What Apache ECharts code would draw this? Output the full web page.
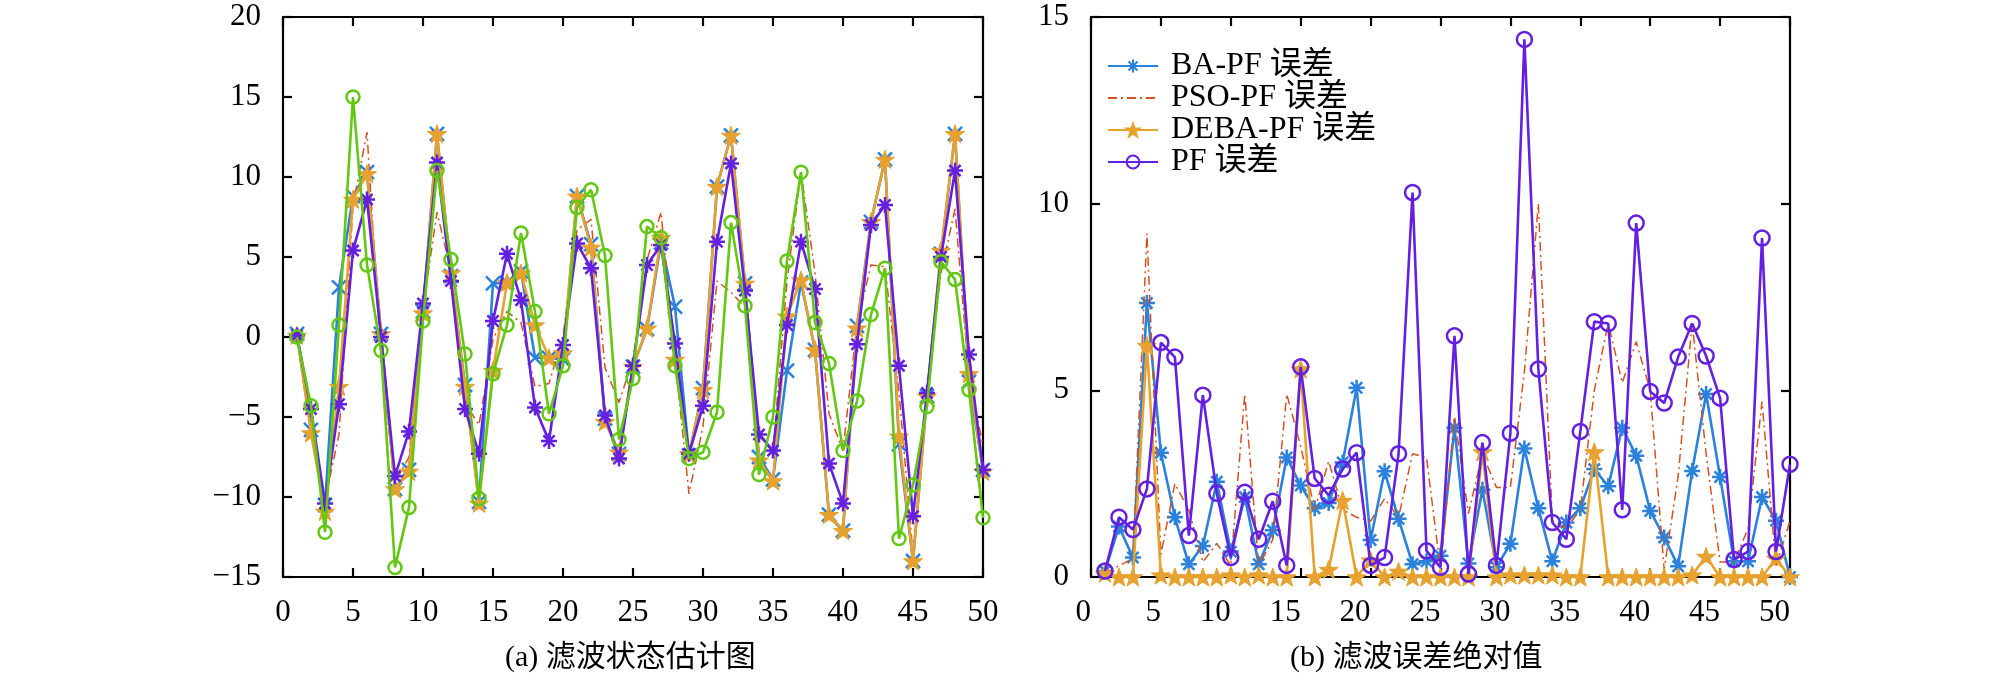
<!DOCTYPE html>
<html>
<head>
<meta charset="utf-8">
<script src="https://cdn.jsdelivr.net/npm/echarts@6/dist/echarts.min.js"></script>
<style>
  html, body { margin: 0; padding: 0; background: #fff; }
  #main { width: 2008px; height: 683px; }
</style>
</head>
<body>
<div id="main"></div>
<script>
// 横坐标 1..50
var steps = [1,2,3,4,5,6,7,8,9,10,11,12,13,14,15,16,17,18,19,20,21,22,23,24,25,
             26,27,28,29,30,31,32,33,34,35,36,37,38,39,40,41,42,43,44,45,46,47,48,49,50];

// (a) 滤波状态估计
var trueState = [0.2,-5.8,-10.5,3.1,8.8,10.3,0.2,-9.5,-8.3,1.6,12.7,3.8,-3.0,-10.3,3.35,3.4,4.1,-1.3,-1.3,-1.4,
                 8.8,5.8,-5.1,-7.3,-1.85,0.5,5.9,1.9,-7.4,-3.2,9.4,12.6,3.35,-7.5,-8.9,-2.1,3.4,-0.8,-11.1,-12.1,
                 0.7,7.2,11.1,-6.7,-14.0,-3.7,5.2,12.7,-2.8,-8.3];
var psoEst    = [0.1,-5.5,-10.2,-6.1,8.2,12.8,-1.6,-9.1,-7.5,1.8,7.8,4.1,-4.1,-5.5,-0.15,1.6,0.9,-3.1,-2.9,0.05,
                 6.7,7.35,-1.9,-4.1,-1.4,4.8,7.8,-1.35,-9.8,-5.6,3.5,2.8,1.85,-6.2,-7.1,3.5,10.3,4.0,-4.8,-7.1,
                 0.8,4.5,4.4,-3.45,-13.6,-3.3,4.0,8.0,-2.5,-6.8];
var debaEst   = [0.1,-6.0,-10.9,-3.1,8.6,10.2,0.2,-9.5,-8.4,1.5,12.7,4.0,-3.1,-10.4,-2.1,3.4,4.0,0.75,-1.3,-1.0,
                 8.8,5.6,-5.3,-7.2,-1.85,0.55,6.2,-1.4,-7.3,-3.3,9.4,12.6,3.35,-7.7,-9.0,1.3,3.56,-0.8,-11.1,-12.1,
                 0.55,7.2,11.1,-6.2,-14.0,-3.7,5.4,12.7,-2.3,-8.4];
var baEst     = [0.1,-4.5,-10.4,-4.2,5.4,8.6,0.0,-8.7,-5.9,2.1,10.9,3.5,-4.5,-7.3,1.0,5.2,2.3,-4.4,-6.5,-0.5,
                 5.85,4.3,-4.9,-7.6,-1.8,4.5,5.75,-0.4,-7.3,-4.3,5.95,10.85,2.9,-6.1,-7.1,0.75,5.96,3.0,-7.9,-10.4,
                 -0.45,7.0,8.25,-1.8,-11.2,-3.5,5.0,10.4,-1.1,-8.3];
var pfEst     = [0.0,-4.3,-12.2,0.75,15.0,4.5,-0.85,-14.4,-10.65,1.0,10.4,4.85,-1.06,-10.1,-2.3,0.75,6.5,1.6,-4.8,-1.8,
                 8.1,9.2,5.1,-6.4,-2.6,6.9,6.2,-1.8,-7.6,-7.2,-4.7,7.15,1.95,-8.6,-5.0,4.75,10.3,0.9,-1.65,-7.1,
                 -4.0,1.4,4.3,-12.6,-9.25,-4.35,4.7,3.6,-3.3,-11.3];

// (b) 滤波误差绝对值
var baErr   = [0.16,1.35,0.52,7.34,3.33,1.6,0.34,0.83,2.55,0.68,2.14,0.34,1.25,3.2,2.45,1.84,1.98,3.07,5.07,0.99,
               2.83,1.56,0.34,0.42,0.57,4.0,0.36,2.34,0.26,0.89,3.44,1.84,0.42,1.46,1.84,2.89,2.43,4.0,3.25,1.77,
               1.06,0.29,2.84,4.9,2.68,0.42,0.42,2.14,1.51,0.0];
var psoErr  = [0.1,0.3,0.5,9.2,0.6,2.5,1.8,0.4,0.9,0.3,4.9,0.3,1.0,4.9,3.5,1.8,3.1,1.8,1.6,1.5,
               2.1,1.6,3.3,3.2,0.2,4.3,1.7,3.3,2.4,2.4,5.5,10.0,1.5,1.3,1.8,5.0,6.8,5.2,6.3,5.0,
               0.2,2.7,6.8,3.3,0.4,0.4,1.3,4.7,0.3,1.5];
var debaErr = [0.1,0.0,0.0,6.2,0.05,0.0,0.0,0.0,0.0,0.05,0.0,0.05,0.0,0.0,5.57,0.0,0.2,2.05,0.0,0.45,
               0.0,0.15,0.0,0.0,0.0,0.0,0.0,3.35,0.0,0.05,0.05,0.05,0.05,0.0,0.0,3.35,0.0,0.0,0.0,0.0,
               0.0,0.0,0.05,0.55,0.0,0.0,0.0,0.0,0.5,0.0];
var pfErr   = [0.16,1.6,1.27,2.36,6.28,5.89,1.11,4.87,2.24,0.52,2.27,1.01,2.03,0.31,5.63,2.64,2.19,2.89,3.33,0.31,
               0.52,3.3,10.3,0.7,0.26,6.46,0.08,3.6,0.31,3.85,14.4,5.57,1.46,1.01,3.9,6.84,6.79,1.8,9.48,4.97,
               4.66,5.89,6.79,5.92,4.79,0.47,0.68,9.08,0.68,3.02];

var leftTicks  = { min: -15, max: 20, interval: 5 };
var rightTicks = { min: 0, max: 15, interval: 5 };
var xTicks     = { min: 0, max: 50, interval: 5 };

var serif = '"Liberation Serif", "Noto Sans CJK SC", serif';

// 标记形状
var asterisk = 'path://M0,-10L0,10M-10,0L10,0M-7,-7L7,7M-7,7L7,-7';
var cross    = 'path://M-7,-7L7,7M-7,7L7,-7';
var star     = 'path://M0,-10L2.35,-3.24L9.51,-3.09L3.8,1.24L5.88,8.09L0,4L-5.88,8.09L-3.8,1.24L-9.51,-3.09L-2.35,-3.24Z';

var cBlue = '#2a82dc', cRed = '#d8501e', cOrange = '#e7a12e', cPurple = '#6420e0', cGreen = '#62c814';

function pairs(arr) {
    return steps.map(function (x, i) { return [x, arr[i]]; });
}

function minusFmt(v) {
    return v < 0 ? '\u2212' + Math.abs(v) : String(v);
}

var axisLine = { show: true, onZero: false, lineStyle: { color: '#000', width: 2.2 } };
var tickIn   = { show: true, inside: true, length: 9, lineStyle: { color: '#000', width: 2.2 } };

function xAxes(gridIndex, align) {
    return [
        {
            type: 'value', gridIndex: gridIndex, position: 'bottom',
            min: xTicks.min, max: xTicks.max, interval: xTicks.interval,
            axisLine: axisLine, axisTick: tickIn, splitLine: { show: false },
            axisLabel: { fontFamily: serif, fontSize: 31, color: '#000', margin: 20, align: align }
        },
        {
            type: 'value', gridIndex: gridIndex, position: 'top',
            min: xTicks.min, max: xTicks.max, interval: xTicks.interval,
            axisLine: axisLine, axisTick: tickIn, splitLine: { show: false },
            axisLabel: { show: false }
        }
    ];
}

function yAxes(gridIndex, t) {
    return [
        {
            type: 'value', gridIndex: gridIndex, position: 'left',
            min: t.min, max: t.max, interval: t.interval,
            axisLine: axisLine, axisTick: tickIn, splitLine: { show: false },
            axisLabel: { fontFamily: serif, fontSize: 31, color: '#000', margin: 22, formatter: minusFmt }
        },
        {
            type: 'value', gridIndex: gridIndex, position: 'right',
            min: t.min, max: t.max, interval: t.interval,
            axisLine: axisLine, axisTick: tickIn, splitLine: { show: false },
            axisLabel: { show: false }
        }
    ];
}

function lineSeries(name, data, color, symbol, size, xi, yi, opts) {
    opts = opts || {};
    return {
        name: name, type: 'line', xAxisIndex: xi, yAxisIndex: yi,
        data: pairs(data),
        symbol: symbol, symbolSize: size, symbolKeepAspect: true,
        showSymbol: symbol !== 'none',
        lineStyle: { color: color, width: opts.width || 2.6, type: opts.dash || 'solid' },
        itemStyle: {
            color: opts.hollow ? 'rgba(255,255,255,0)' : color,
            borderColor: color,
            borderWidth: opts.border === undefined ? 2.5 : opts.border
        },
        emphasis: { disabled: true },
        z: opts.z || 2
    };
}

var myChart = echarts.init(document.getElementById('main'));

var option = {
    animation: false,
    backgroundColor: '#fff',
    grid: [
        { left: 283, top: 17, width: 700, height: 560 },
        { left: 1091, top: 17, width: 699, height: 560 }
    ],
    xAxis: xAxes(0, 'center').concat(xAxes(1, 'right')),
    yAxis: yAxes(0, leftTicks).concat(yAxes(1, rightTicks)),
    legend: {
        data: [
            { name: 'BA-PF 误差' },
            { name: 'PSO-PF 误差', itemStyle: { opacity: 0 } },
            { name: 'DEBA-PF 误差' },
            { name: 'PF 误差' }
        ],
        orient: 'vertical',
        left: 1102, top: 45,
        itemWidth: 50, itemHeight: 16, itemGap: 0,
        textStyle: { fontFamily: serif, fontSize: 32, color: '#000', lineHeight: 31, padding: [0, 0, 0, 8] }
    },
    graphic: [
        { type: 'text', left: 633 - 128, top: 643,
          style: { text: '(a) 滤波状态估计图', font: '30px ' + serif, fill: '#000' } },
        { type: 'text', left: 1440 - 150, top: 643,
          style: { text: '(b) 滤波误差绝对值', font: '30px ' + serif, fill: '#000' } }
    ],
    series: [
        // (a)
        lineSeries('真实状态', trueState, cBlue, cross, 14, 0, 0, { z: 2 }),
        lineSeries('PSO-PF', psoEst, cRed, 'none', 0, 0, 0, { dash: [9, 4, 2, 4], width: 1.5, z: 3 }),
        lineSeries('DEBA-PF', debaEst, cOrange, star, 19, 0, 0, { border: 1, z: 4 }),
        lineSeries('BA-PF', baEst, cPurple, asterisk, 16, 0, 0, { z: 5 }),
        lineSeries('PF', pfEst, cGreen, 'circle', 13, 0, 0, { hollow: true, z: 6 }),
        // (b)
        lineSeries('BA-PF 误差', baErr, cBlue, asterisk, 16, 2, 2, { z: 2 }),
        lineSeries('PSO-PF 误差', psoErr, cRed, 'none', 0, 2, 2, { dash: [9, 4, 2, 4], width: 1.5, z: 3 }),
        lineSeries('DEBA-PF 误差', debaErr, cOrange, star, 19, 2, 2, { border: 1, z: 4 }),
        lineSeries('PF 误差', pfErr, cPurple, 'circle', 15, 2, 2, { hollow: true, z: 5 })
    ]
};

myChart.setOption(option);
</script>
</body>
</html>
